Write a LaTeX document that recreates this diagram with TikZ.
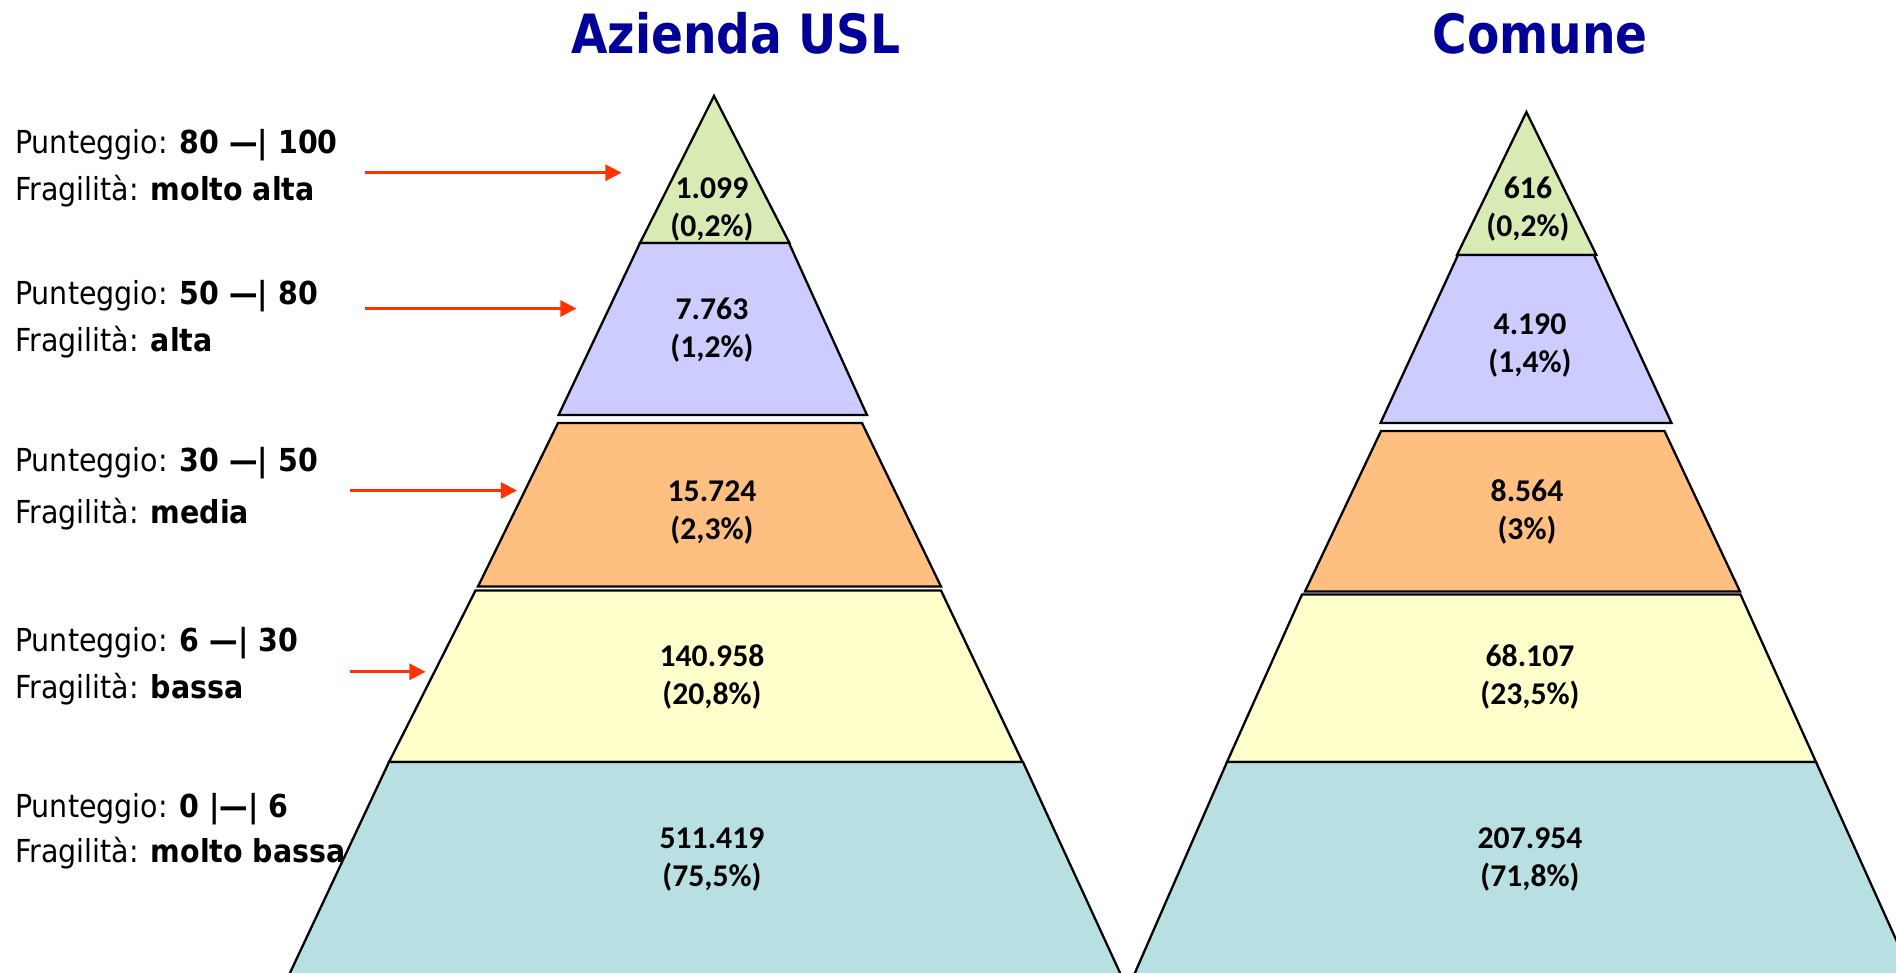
\documentclass[tikz,border=0pt]{standalone}
\usepackage{fontspec}
\usetikzlibrary{arrows.meta}
\newfontfamily\labelfont[FakeStretch=0.9]{DejaVu Sans}
\newfontfamily\titlefont[FakeStretch=0.87]{DejaVu Sans}
\newfontfamily\numfont{Carlito}
\definecolor{ttl}{HTML}{000099}
\definecolor{cgreen}{HTML}{D8EBB4}
\definecolor{clav}{HTML}{CCCCFF}
\definecolor{corange}{HTML}{FFBF80}
\definecolor{cyellow}{HTML}{FFFFCC}
\definecolor{cblue}{HTML}{B8E0E3}
\definecolor{arr}{HTML}{FF3300}
\tikzset{
  tier/.style={draw=black, line width=0.65pt, line join=miter},
  titletext/.style={anchor=base, inner sep=0pt, text=ttl, font=\titlefont\fontsize{15.4}{18}\selectfont\bfseries},
  lbl/.style={anchor=base west, inner sep=0pt, font=\labelfont\fontsize{9}{11}\selectfont},
  num/.style={anchor=base, inner sep=0pt, font=\numfont\fontsize{9}{10.8}\selectfont\bfseries},
  pointer/.style={draw=arr, line width=0.75pt, -{Triangle[length=4.6pt,width=4.6pt]}}
}
\begin{document}
\begin{tikzpicture}[x=0.01cm,y=-0.01cm]
\useasboundingbox (0,0) rectangle (1896,972);
\fill[white] (0,0) rectangle (1896,972);

% titles
\node[titletext] (t1) at (736,53.5) {Azienda USL};
\node[titletext] (t2) at (1540,53.5) {Comune};

\begin{scope}
\clip (0,0) rectangle (1896,972);
% left pyramid
\filldraw[tier, fill=cgreen] (714,96) -- (789.5,243) -- (640,243) -- cycle;
\filldraw[tier, fill=clav] (640,243) -- (789,243) -- (867,415) -- (558.6,415) -- cycle;
\filldraw[tier, fill=corange] (558,423) -- (862,423) -- (941,586.5) -- (478,586.5) -- cycle;
\filldraw[tier, fill=cyellow] (475.5,590.5) -- (941,590.5) -- (1022.5,762) -- (389,762) -- cycle;
\filldraw[tier, fill=cblue] (389,762) -- (1023,762) -- (1121,975) -- (289,975) -- cycle;
% right pyramid
\filldraw[tier, fill=cgreen] (1526.4,112) -- (1596.4,255) -- (1457,255) -- cycle;
\filldraw[tier, fill=clav] (1458,255) -- (1594,255) -- (1671.5,423) -- (1380.5,423) -- cycle;
\filldraw[tier, fill=corange] (1381,431) -- (1664.5,431) -- (1740,591.5) -- (1305,591.5) -- cycle;
\filldraw[tier, fill=cyellow] (1302,594.5) -- (1740.5,594.5) -- (1816,762) -- (1227,762) -- cycle;
\filldraw[tier, fill=cblue] (1227,762) -- (1816,762) -- (1912,975) -- (1134,975) -- cycle;
\end{scope}

% left numbers
\node[num] (l1a) at (712,198.5) {1.099};
\node[num] (l1b) at (712,236.5) {(0,2\%)};
\node[num] (l2a) at (712,319.5) {7.763};
\node[num] (l2b) at (712,357.5) {(1,2\%)};
\node[num] (l3a) at (712,501) {15.724};
\node[num] (l3b) at (712,539) {(2,3\%)};
\node[num] (l4a) at (712,666.5) {140.958};
\node[num] (l4b) at (712,704.5) {(20,8\%)};
\node[num] (l5a) at (712,848) {511.419};
\node[num] (l5b) at (712,886) {(75,5\%)};
% right numbers
\node[num] (r1a) at (1528,198.5) {616};
\node[num] (r1b) at (1528,236.5) {(0,2\%)};
\node[num] (r2a) at (1530,334.5) {4.190};
\node[num] (r2b) at (1530,372.5) {(1,4\%)};
\node[num] (r3a) at (1527,501) {8.564};
\node[num] (r3b) at (1527,539) {(3\%)};
\node[num] (r4a) at (1530,666.5) {68.107};
\node[num] (r4b) at (1530,704.5) {(23,5\%)};
\node[num] (r5a) at (1530,848) {207.954};
\node[num] (r5b) at (1530,886) {(71,8\%)};

% left labels
\node[lbl] (p1) at (14.5,153) {Punteggio: \textbf{80 —| 100}};
\node[lbl] (f1) at (14.5,200.5) {Fragilità: \textbf{molto alta}};
\node[lbl] (p2) at (14.5,304) {Punteggio: \textbf{50 —| 80}};
\node[lbl] (f2) at (14.5,351) {Fragilità: \textbf{alta}};
\node[lbl] (p3) at (14.5,471.5) {Punteggio: \textbf{30 —| 50}};
\node[lbl] (f3) at (14.5,523.5) {Fragilità: \textbf{media}};
\node[lbl] (p4) at (14.5,651) {Punteggio: \textbf{6 —| 30}};
\node[lbl] (f4) at (14.5,698.5) {Fragilità: \textbf{bassa}};
\node[lbl] (p5) at (14.5,817.5) {Punteggio: \textbf{0 |—| 6}};
\node[lbl] (f5) at (14.5,862.5) {Fragilità: \textbf{molto bassa}};

% arrows
\coordinate (a1s) at (365,172.7);
\coordinate (a1e) at (621.5,172.7);
\coordinate (a2s) at (365,308.5);
\coordinate (a2e) at (576.5,308.5);
\coordinate (a3s) at (350,490.5);
\coordinate (a3e) at (517,490.5);
\coordinate (a4s) at (350,671.8);
\coordinate (a4e) at (425.5,671.8);
\draw[pointer] (a1s) -- (a1e);
\draw[pointer] (a2s) -- (a2e);
\draw[pointer] (a3s) -- (a3e);
\draw[pointer] (a4s) -- (a4e);
\end{tikzpicture}
\end{document}
